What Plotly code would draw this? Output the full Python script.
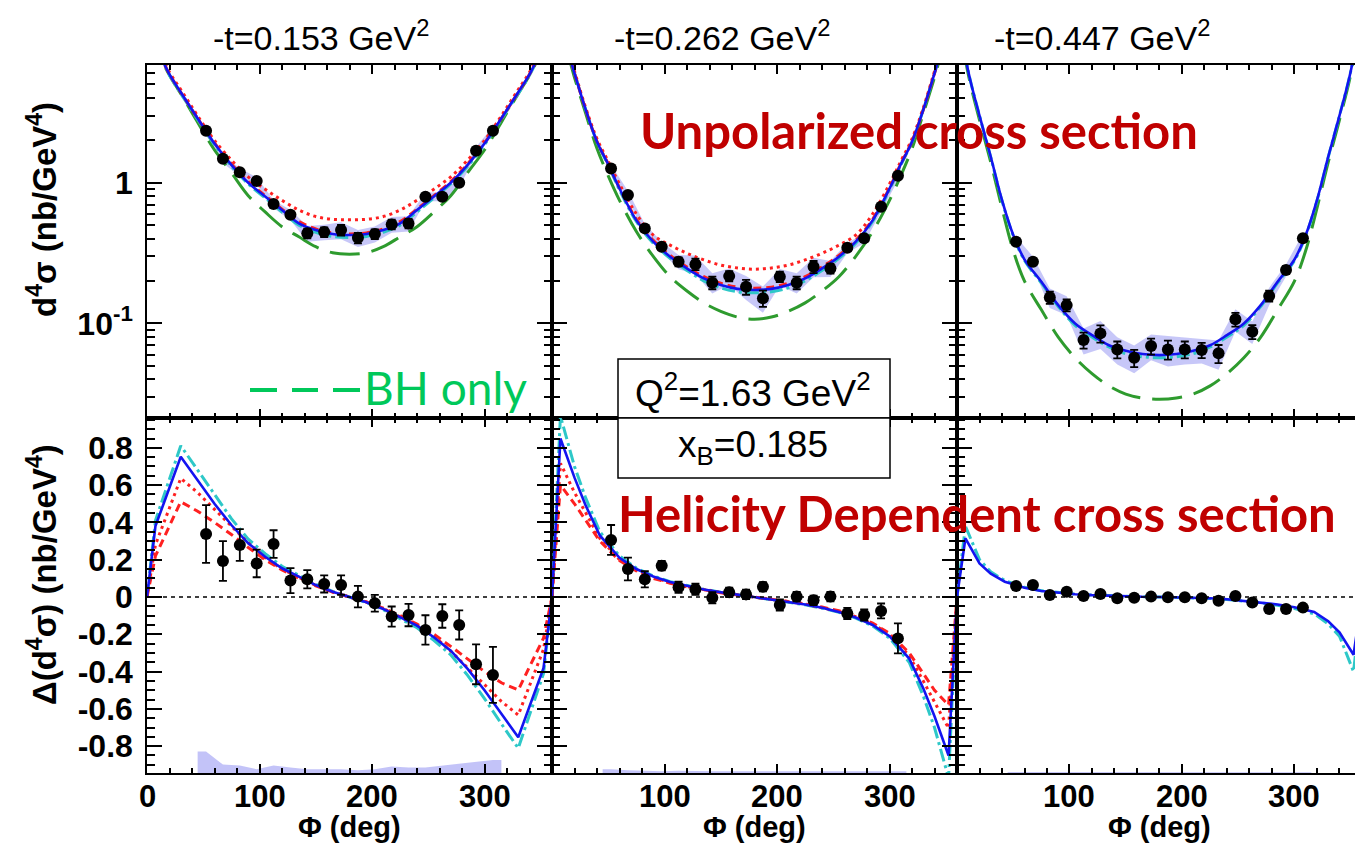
import plotly.graph_objects as go

# ---------------- data ----------------
PHI_DATA = [52.5, 67.5, 82.5, 97.5, 112.5, 127.5, 142.5, 157.5, 172.5,
            187.5, 202.5, 217.5, 232.5, 247.5, 262.5, 277.5, 292.5, 307.5]

# unpolarized cross sections (nb/GeV^4)
XS_T1 = [2.34, 1.48, 1.186, 1.03, 0.706, 0.592, 0.437, 0.446, 0.461,
         0.406, 0.432, 0.506, 0.514, 0.795, 0.795, 1.0, 1.688, 2.34]
XS_T1_ERR = [0.09, 0.06, 0.05, 0.04, 0.03, 0.03, 0.035, 0.035, 0.04,
             0.035, 0.035, 0.04, 0.04, 0.035, 0.035, 0.045, 0.07, 0.1]
XS_T2 = [1.265, 0.818, 0.474, 0.351, 0.275, 0.264, 0.195, 0.217, 0.182,
         0.151, 0.215, 0.195, 0.253, 0.246, 0.345, 0.403, 0.675, 1.12]
XS_T2_ERR = [0.05, 0.035, 0.022, 0.018, 0.02, 0.025, 0.02, 0.018, 0.022,
             0.02, 0.018, 0.02, 0.025, 0.02, 0.018, 0.02, 0.03, 0.05]
XS_T3 = [0.381, 0.275, 0.153, 0.135, 0.0762, 0.085, 0.0654, 0.057, 0.0691,
         0.0654, 0.0654, 0.0647, 0.0613, 0.107, 0.0873, 0.157, 0.240, 0.403]
XS_T3_ERR = [0.02, 0.015, 0.015, 0.013, 0.01, 0.012, 0.009, 0.008, 0.009,
             0.01, 0.009, 0.008, 0.009, 0.012, 0.01, 0.014, 0.015, 0.02]

# helicity-dependent cross sections
HD_T1 = [0.338, 0.193, 0.279, 0.180, 0.284, 0.088, 0.095, 0.070, 0.064,
         0.002, -0.034, -0.105, -0.097, -0.177, -0.102, -0.150, -0.361, -0.418]
HD_T1_ERR = [0.155, 0.107, 0.085, 0.074, 0.074, 0.067, 0.049, 0.046, 0.052,
             0.058, 0.045, 0.054, 0.060, 0.079, 0.063, 0.078, 0.107, 0.150]
HD_T2 = [0.306, 0.150, 0.095, 0.168, 0.052, 0.041, -0.004, 0.025, 0.014,
         0.055, -0.043, 0.002, -0.018, 0.002, -0.088, -0.097, -0.075, -0.222]
HD_T2_ERR = [0.08, 0.061, 0.043, 0.025, 0.03, 0.03, 0.03, 0.025, 0.025,
             0.025, 0.03, 0.025, 0.025, 0.025, 0.03, 0.03, 0.04, 0.08]
HD_T3 = [0.059, 0.064, 0.011, 0.028, 0.005, 0.016, -0.007, -0.004, 0.002,
         -0.002, -0.002, -0.007, -0.020, 0.005, -0.029, -0.064, -0.064, -0.057]
HD_T3_ERR = [0.012, 0.012, 0.012, 0.012, 0.012, 0.012, 0.012, 0.012, 0.012,
             0.012, 0.012, 0.012, 0.012, 0.012, 0.012, 0.012, 0.012, 0.012]

# systematic uncertainty bands (bottom panels)
SYS_T1 = [0.115, 0.045, 0.04, 0.02, 0.04, 0.03, 0.02, 0.02, 0.02,
          0.015, 0.02, 0.035, 0.03, 0.03, 0.04, 0.05, 0.06, 0.07]
SYS_T2 = [0.02, 0.015, 0.012, 0.01, 0.012, 0.01, 0.01, 0.01, 0.008,
          0.01, 0.01, 0.01, 0.01, 0.012, 0.012, 0.01, 0.01, 0.01]
SYS_T3 = [0.005, 0.005, 0.004, 0.004, 0.004, 0.004, 0.004, 0.004, 0.004,
          0.004, 0.004, 0.004, 0.004, 0.004, 0.004, 0.004, 0.004, 0.004]

# model curves, unpolarized
PHI_T = [0, 10, 20, 30, 40, 50, 60, 75, 90, 105, 120, 135, 150, 165, 180,
         195, 210, 225, 240, 255, 270, 285, 300, 310, 320, 330, 340, 350, 360]

U1_BLUE = [12, 8.5, 5.9, 4.4, 3.3, 2.5, 1.9, 1.34, 1.0, 0.8, 0.64, 0.515, 0.461, 0.432, 0.425,
           0.432, 0.461, 0.515, 0.64, 0.8, 1.0, 1.34, 1.9, 2.5, 3.3, 4.4, 5.9, 8.5, 12]
U1_RDOT = [13, 8.8, 6.1, 4.6, 3.45, 2.6, 2.0, 1.45, 1.1, 0.9, 0.75, 0.64, 0.575, 0.55, 0.545,
           0.55, 0.575, 0.64, 0.75, 0.9, 1.1, 1.45, 2.0, 2.6, 3.45, 4.6, 6.1, 8.8, 13]
U1_RDASH = [12, 8.5, 5.9, 4.4, 3.3, 2.5, 1.92, 1.36, 1.02, 0.81, 0.65, 0.53, 0.47, 0.44, 0.433,
            0.44, 0.47, 0.53, 0.65, 0.81, 1.02, 1.36, 1.92, 2.5, 3.3, 4.4, 5.9, 8.5, 12]
U1_CYAN = [12, 8.4, 5.8, 4.3, 3.25, 2.45, 1.86, 1.31, 0.98, 0.78, 0.62, 0.5, 0.445, 0.415, 0.408,
           0.415, 0.445, 0.5, 0.62, 0.78, 0.98, 1.31, 1.86, 2.45, 3.25, 4.3, 5.8, 8.4, 12]
U1_BH = [12, 8.3, 5.8, 4.3, 3.15, 2.3, 1.71, 1.18, 0.81, 0.62, 0.487, 0.413, 0.351, 0.318, 0.311,
         0.318, 0.351, 0.413, 0.487, 0.62, 0.81, 1.18, 1.71, 2.3, 3.15, 4.3, 5.8, 8.3, 12]

U2_BLUE = [16, 11, 6.0, 3.3, 1.96, 1.35, 0.91, 0.54, 0.381, 0.298, 0.246, 0.209, 0.1875, 0.176, 0.173,
           0.176, 0.1875, 0.209, 0.246, 0.298, 0.381, 0.54, 0.91, 1.35, 1.96, 3.3, 6.0, 11, 16]
U2_RDOT = [16.5, 11.5, 6.2, 3.4, 2.05, 1.42, 0.98, 0.6, 0.425, 0.36, 0.315, 0.283, 0.26, 0.248, 0.243,
           0.248, 0.26, 0.283, 0.315, 0.36, 0.425, 0.6, 0.98, 1.42, 2.05, 3.4, 6.2, 11.5, 16.5]
U2_RDASH = [16, 11, 6.0, 3.3, 1.97, 1.36, 0.92, 0.55, 0.39, 0.305, 0.252, 0.215, 0.193, 0.181, 0.178,
            0.181, 0.193, 0.215, 0.252, 0.305, 0.39, 0.55, 0.92, 1.36, 1.97, 3.3, 6.0, 11, 16]
U2_CYAN = [16, 11, 6.0, 3.3, 1.95, 1.33, 0.89, 0.53, 0.372, 0.29, 0.238, 0.201, 0.179, 0.168, 0.165,
           0.168, 0.179, 0.201, 0.238, 0.29, 0.372, 0.53, 0.89, 1.33, 1.95, 3.3, 6.0, 11, 16]
U2_BH = [15, 10.5, 5.6, 3.1, 1.75, 1.12, 0.75, 0.45, 0.3, 0.215, 0.17, 0.14, 0.122, 0.111, 0.107,
         0.111, 0.122, 0.14, 0.17, 0.215, 0.3, 0.45, 0.75, 1.12, 1.75, 3.1, 5.6, 10.5, 15]

U3_BLUE = [18, 6.2, 3.0, 1.53, 0.753, 0.425, 0.285, 0.198, 0.135, 0.1, 0.0826, 0.07, 0.064, 0.0606, 0.0596,
           0.0606, 0.064, 0.07, 0.0826, 0.1, 0.135, 0.198, 0.285, 0.425, 0.753, 1.53, 3.0, 6.2, 18]
U3_CYAN = [18, 6.2, 3.0, 1.52, 0.745, 0.42, 0.28, 0.194, 0.132, 0.097, 0.08, 0.068, 0.061, 0.058, 0.057,
           0.058, 0.061, 0.068, 0.08, 0.097, 0.132, 0.194, 0.28, 0.42, 0.745, 1.52, 3.0, 6.2, 18]
U3_BH = [17, 5.9, 2.8, 1.4, 0.66, 0.33, 0.2, 0.125, 0.08, 0.057, 0.044, 0.036, 0.0315, 0.0295, 0.0289,
         0.0295, 0.0315, 0.036, 0.044, 0.057, 0.08, 0.125, 0.2, 0.33, 0.66, 1.4, 2.8, 5.9, 17]

# model curves, helicity dependent
PHI_B1 = [0, 7.5, 30, 45, 60, 75, 90, 105, 120, 135, 150, 165, 180,
          195, 210, 225, 240, 255, 270, 285, 300, 315, 330, 352.5, 360]
H1_BLUE = [0, 0.38, 0.752, 0.626, 0.50, 0.386, 0.288, 0.216, 0.154, 0.109, 0.064, 0.028, 0.0,
           -0.028, -0.064, -0.109, -0.154, -0.216, -0.288, -0.386, -0.50, -0.626, -0.752, -0.38, 0]
H1_CYAN = [0, 0.41, 0.811, 0.68, 0.545, 0.42, 0.31, 0.232, 0.165, 0.115, 0.068, 0.03, 0.0,
           -0.03, -0.068, -0.115, -0.165, -0.232, -0.31, -0.42, -0.545, -0.68, -0.811, -0.41, 0]
H1_RDOT = [0, 0.28, 0.636, 0.56, 0.47, 0.38, 0.29, 0.21, 0.15, 0.105, 0.062, 0.027, 0.0,
           -0.027, -0.062, -0.105, -0.15, -0.21, -0.29, -0.38, -0.47, -0.56, -0.633, -0.28, 0]
H1_RDASH = [0, 0.22, 0.511, 0.46, 0.40, 0.335, 0.265, 0.2, 0.145, 0.1, 0.06, 0.026, 0.0,
            -0.026, -0.06, -0.1, -0.145, -0.2, -0.265, -0.335, -0.40, -0.46, -0.499, -0.22, 0]

PHI_B2 = [0, 7.5, 20, 30, 42.5, 60, 75, 90, 105, 120, 135, 150, 165, 180,
          195, 210, 225, 240, 255, 270, 285, 300, 317.5, 330, 340, 352.5, 360]
H2_BLUE = [0, 0.85, 0.64, 0.49, 0.33, 0.21, 0.15, 0.11, 0.08, 0.058, 0.04, 0.025, 0.012, 0,
           -0.012, -0.025, -0.04, -0.058, -0.08, -0.11, -0.15, -0.21, -0.33, -0.49, -0.64, -0.85, 0]
H2_CYAN = [0, 0.97, 0.70, 0.53, 0.35, 0.22, 0.155, 0.113, 0.082, 0.06, 0.042, 0.026, 0.013, 0,
           -0.013, -0.026, -0.042, -0.06, -0.082, -0.113, -0.155, -0.22, -0.35, -0.53, -0.70, -0.97, 0]
H2_RDOT = [0, 0.717, 0.56, 0.45, 0.315, 0.2, 0.145, 0.105, 0.077, 0.056, 0.038, 0.024, 0.011, 0,
           -0.011, -0.024, -0.038, -0.056, -0.077, -0.105, -0.145, -0.2, -0.315, -0.45, -0.56, -0.704, 0]
H2_RDASH = [0, 0.60, 0.50, 0.41, 0.3, 0.195, 0.14, 0.1, 0.074, 0.054, 0.037, 0.023, 0.011, 0,
            -0.011, -0.023, -0.037, -0.054, -0.074, -0.1, -0.14, -0.195, -0.3, -0.41, -0.5, -0.58, 0]

PHI_B3 = [0, 7.5, 20, 30, 42.5, 60, 75, 90, 105, 120, 135, 150, 165, 180,
          195, 210, 225, 240, 255, 270, 285, 300, 317.5, 330, 340, 352.5, 360]
H3_BLUE = [0, 0.315, 0.18, 0.125, 0.082, 0.05, 0.032, 0.022, 0.015, 0.01, 0.006, 0.003, 0.001, 0,
           -0.002, -0.004, -0.007, -0.012, -0.02, -0.028, -0.04, -0.055, -0.08, -0.13, -0.19, -0.31, 0]
H3_CYAN = [0, 0.38, 0.2, 0.135, 0.088, 0.053, 0.034, 0.023, 0.016, 0.011, 0.007, 0.004, 0.001, 0,
           -0.002, -0.005, -0.008, -0.013, -0.022, -0.031, -0.045, -0.062, -0.09, -0.145, -0.21, -0.40, 0]

T_LABELS = ["-t=0.153 GeV<sup>2</sup>", "-t=0.262 GeV<sup>2</sup>", "-t=0.447 GeV<sup>2</sup>"]
LOG_TICKS = [0.1, 1]
LOG_TICKTEXT = ["10<sup>-1</sup>", "1"]
LOG_MINOR = [0.03, 0.04, 0.05, 0.06, 0.07, 0.08, 0.09, 0.2, 0.3, 0.4, 0.5, 0.6, 0.7, 0.8, 0.9,
             2, 3, 4, 5, 6]
LIN_TICKS = [-0.8, -0.6, -0.4, -0.2, 0, 0.2, 0.4, 0.6, 0.8]
LIN_TICKTEXT = ["-0.8", "-0.6", "-0.4", "-0.2", "0", "0.2", "0.4", "0.6", "0.8"]
X_TICKS = [0, 100, 200, 300]
X_TICKTEXT = [["0", "100", "200", "300"], ["", "100", "200", "300"], ["", "100", "200", "300"]]

# ---------------- layout geometry ----------------
W, H = 1355, 846
ML, MR, MT, MB = 147, 0, 65, 73
PW, PH = W - ML - MR, H - MT - MB
YT_RANGE = [-1.672, 0.837]
YB_RANGE = [-0.944, 0.960]
XR = [[0, 360], [0, 360], [0, 353.8]]
BAND_SCALE = 1.6


def px(xp):
    return (xp - ML) / PW


def py(yp):
    return (H - MB - yp) / PH


XDOM = [[0, 405 / PW], [405 / PW, 810 / PW], [810 / PW, 1]]
YDOM_T = [355 / PH, 1]
YDOM_B = [0, 355 / PH]

BLUE = dict(color="#1414F0", width=2.6)
CYAN = dict(color="#2EC8C8", width=3, dash="13px,4px,3px,4px")
RDOT = dict(color="#FF2020", width=3, dash="3px,4px")
RDASH = dict(color="#FF2020", width=3, dash="8px,5px")
GREEN = dict(color="#2E9B2E", width=3, dash="30px,12px")

fig = go.Figure()


def ax(i):
    return ("x" if i == 1 else f"x{i}"), ("y" if i == 1 else f"y{i}")


def add_curve(i, xs, ys, line, shape):
    xa, ya = ax(i)
    fig.add_trace(go.Scatter(x=xs, y=ys, mode="lines", line=dict(shape=shape, **line),
                             xaxis=xa, yaxis=ya, showlegend=False, hoverinfo="skip"))


def add_points(i, ys, errs):
    xa, ya = ax(i)
    fig.add_trace(go.Scatter(x=PHI_DATA, y=ys, mode="markers",
                             marker=dict(color="black", size=12),
                             error_y=dict(type="data", array=errs, color="black", thickness=1.8, width=4),
                             xaxis=xa, yaxis=ya, showlegend=False))


def add_band(i, ys, errs):
    xa, ya = ax(i)
    hi = [v + BAND_SCALE * e for v, e in zip(ys, errs)]
    lo = [v - BAND_SCALE * e for v, e in zip(ys, errs)]
    fig.add_trace(go.Scatter(x=PHI_DATA + PHI_DATA[::-1], y=hi + lo[::-1], mode="lines",
                             fill="toself", fillcolor="rgba(130,130,240,0.45)",
                             line=dict(width=0), xaxis=xa, yaxis=ya, showlegend=False,
                             hoverinfo="skip"))


def add_sys(i, sys):
    xa, ya = ax(i)
    base = YB_RANGE[0]
    xs = [45] + PHI_DATA + [315, 315, 45]
    ys = [base + sys[0]] + [base + s for s in sys] + [base + sys[-1], base, base]
    fig.add_trace(go.Scatter(x=xs, y=ys, mode="lines", fill="toself",
                             fillcolor="rgba(175,175,245,0.75)", line=dict(width=0),
                             xaxis=xa, yaxis=ya, showlegend=False, hoverinfo="skip"))


top_sets = [
    (XS_T1, XS_T1_ERR, [(U1_BH, GREEN), (U1_CYAN, CYAN), (U1_RDOT, RDOT), (U1_RDASH, RDASH), (U1_BLUE, BLUE)]),
    (XS_T2, XS_T2_ERR, [(U2_BH, GREEN), (U2_CYAN, CYAN), (U2_RDOT, RDOT), (U2_RDASH, RDASH), (U2_BLUE, BLUE)]),
    (XS_T3, XS_T3_ERR, [(U3_BH, GREEN), (U3_CYAN, CYAN), (U3_BLUE, BLUE)]),
]
for k, (ys, es, curves) in enumerate(top_sets):
    i = k + 1
    add_band(i, ys, es)
    for cy, st in curves:
        add_curve(i, PHI_T, cy, st, "spline")
    add_points(i, ys, es)

bot_sets = [
    (HD_T1, HD_T1_ERR, SYS_T1, PHI_B1, [(H1_CYAN, CYAN), (H1_RDOT, RDOT), (H1_RDASH, RDASH), (H1_BLUE, BLUE)]),
    (HD_T2, HD_T2_ERR, SYS_T2, PHI_B2, [(H2_CYAN, CYAN), (H2_RDOT, RDOT), (H2_RDASH, RDASH), (H2_BLUE, BLUE)]),
    (HD_T3, HD_T3_ERR, SYS_T3, PHI_B3, [(H3_CYAN, CYAN), (H3_BLUE, BLUE)]),
]
for k, (ys, es, sys, phig, curves) in enumerate(bot_sets):
    i = k + 4
    add_sys(i, sys)
    for cy, st in curves:
        add_curve(i, phig, cy, st, "linear")
    add_points(i, ys, es)

HELV = "Liberation Sans, Arial, sans-serif"
TICKFONT = dict(family=HELV, size=32, color="black", weight="bold")
common = dict(showline=True, linecolor="black", linewidth=1.5, ticks="inside",
              tickcolor="black", tickwidth=1.5, showgrid=False, zeroline=False)

layout = dict(width=W, height=H, margin=dict(l=ML, r=MR, t=MT, b=MB),
              plot_bgcolor="white", paper_bgcolor="white", showlegend=False)

for k in range(3):
    for row in ("top", "bot"):
        i = k + 1 if row == "top" else k + 4
        xname = "xaxis" if i == 1 else f"xaxis{i}"
        yname = "yaxis" if i == 1 else f"yaxis{i}"
        xa, ya = ax(i)
        mir = "ticks" if k < 2 else False
        xt = dict(common, domain=XDOM[k], range=XR[k], anchor=ya, mirror="ticks",
                  tickmode="array", tickvals=X_TICKS, ticklen=9, showticklabels=False,
                  minor=dict(dtick=20, tick0=0, ticklen=5, ticks="inside",
                             tickcolor="black", tickwidth=1.5, showgrid=False))
        if row == "top":
            yt = dict(common, domain=YDOM_T, type="log", range=YT_RANGE, anchor=xa, mirror=mir,
                      tickmode="array", tickvals=LOG_TICKS, ticktext=LOG_TICKTEXT, ticklen=15,
                      minor=dict(tickmode="array", tickvals=LOG_MINOR, ticklen=8, ticks="inside",
                                 tickcolor="black", tickwidth=1.5, showgrid=False))
        else:
            yt = dict(common, domain=YDOM_B, range=YB_RANGE, anchor=xa, mirror=mir,
                      tickmode="array", tickvals=LIN_TICKS, ticktext=LIN_TICKTEXT, ticklen=15,
                      minor=dict(dtick=0.05, tick0=0, ticklen=8, ticks="inside",
                                 tickcolor="black", tickwidth=1.5, showgrid=False))
        if k == 0:
            yt.update(showticklabels=True, tickfont=TICKFONT, ticklabelstandoff=6)
        else:
            yt.update(showticklabels=False)
        layout[xname] = xt
        layout[yname] = yt

fig.update_layout(**layout)

# zero lines in bottom panels
for k in range(3):
    xa, ya = ax(k + 4)
    fig.add_shape(type="line", xref=xa, yref=ya, x0=XR[k][0], x1=XR[k][1], y0=0, y1=0,
                  line=dict(color="black", width=1.5, dash="4px,4px"), layer="above")

# Q2 / xB boxes
for (y0, y1) in [(359, 418), (418, 478)]:
    fig.add_shape(type="rect", xref="paper", yref="paper", x0=px(618), x1=px(890),
                  y0=py(y1), y1=py(y0), line=dict(color="black", width=1.5),
                  fillcolor="white", layer="above")

# BH-only legend dashes
for (a, b) in [(250, 277), (292, 318), (333, 360)]:
    fig.add_shape(type="line", xref="paper", yref="paper", x0=px(a), x1=px(b),
                  y0=py(390), y1=py(390), line=dict(color="#00C85A", width=4), layer="above")

ann = []
# x tick labels of the bottom row, placed on each panel's own x axis
for k in range(3):
    xa, _ = ax(k + 4)
    for v, t in zip(X_TICKS, X_TICKTEXT[k]):
        if t:
            ann.append(dict(text=t, x=v, xref=xa, y=py(796), yref="paper",
                            font=dict(family=HELV, size=31, color="black", weight="bold")))
for txt, cx in zip(T_LABELS, [321, 722, 1102]):
    ann.append(dict(text=txt, x=px(cx), y=py(36), font=dict(family=HELV, size=34, color="black")))
for cx in [349, 754, 1159]:
    ann.append(dict(text="Φ (deg)", x=px(cx), y=py(827), font=dict(family=HELV, size=29, color="black", weight="bold")))
ann.append(dict(text="d<sup>4</sup>σ (nb/GeV<sup>4</sup>)", x=px(42), y=py(210), textangle=-90,
                font=dict(family=HELV, size=33, color="black", weight="bold")))
ann.append(dict(text="Δ(d<sup>4</sup>σ) (nb/GeV<sup>4</sup>)", x=px(42), y=py(575), textangle=-90,
                font=dict(family=HELV, size=33, color="black", weight="bold")))
ann.append(dict(text="Q<sup>2</sup>=1.63 GeV<sup>2</sup>", x=px(753), y=py(390),
                font=dict(family=HELV, size=37, color="black")))
ann.append(dict(text="x<sub>B</sub>=0.185", x=px(753), y=py(447),
                font=dict(family=HELV, size=37, color="black")))
ann.append(dict(text="Unpolarized cross section", x=px(919), y=py(130),
                font=dict(family="Lato, Open Sans, sans-serif", size=49, color="#C00000", weight="bold")))
ann.append(dict(text="Helicity Dependent cross section", x=px(977), y=py(513),
                font=dict(family="Lato, Open Sans, sans-serif", size=49, color="#C00000", weight="bold")))
ann.append(dict(text="BH only", x=px(445), y=py(387),
                font=dict(family="Lato, Open Sans, sans-serif", size=46, color="#00C85A")))
for a in ann:
    a.setdefault("xref", "paper")
    a.setdefault("yref", "paper")
    a.update(showarrow=False, xanchor="center", yanchor="middle")
fig.update_layout(annotations=ann)

fig.write_html("out.html")
